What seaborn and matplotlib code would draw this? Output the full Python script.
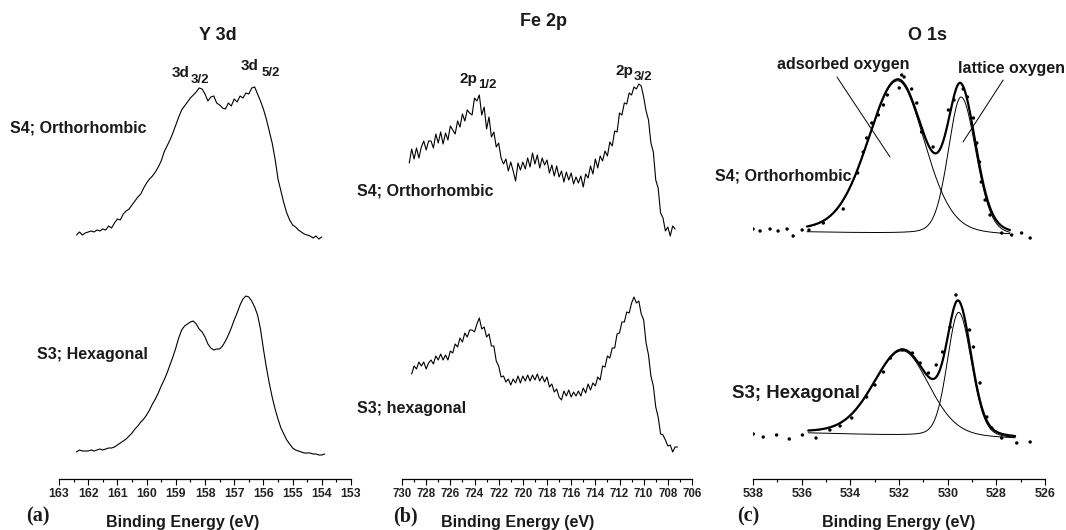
import numpy as np
import pandas as pd
import matplotlib
matplotlib.use("Agg")
import matplotlib.pyplot as plt
import seaborn as sns
from matplotlib.ticker import MultipleLocator, FormatStrFormatter

# ---------------- data ----------------
# Y 3d spectra, 0.1 eV steps starting at 162.4 eV (intensity, a.u.)
y3d_start = 162.4
y3d_step = 0.1
y3d_s4 = [244, 247, 244, 246, 247, 248, 247, 249, 248, 250,
          249, 253, 251, 256, 260, 259, 265, 268, 270, 274,
          278, 282, 285, 291, 296, 300, 303, 307, 312, 318,
          327, 333, 339, 346, 354, 362, 369, 373, 377, 381,
          384, 387, 391, 390, 385, 378, 382, 383, 376, 374,
          371, 370, 376, 373, 380, 377, 383, 381, 386, 385,
          391, 392, 385, 378, 370, 360, 348, 336, 320, 300,
          288, 276, 266, 259, 254, 252, 249, 247, 245, 244,
          243, 241, 243, 240, 242]
y3d_s3 = [27, 29, 28, 28, 28, 29, 28, 29, 30, 29,
          30, 31, 31, 32, 34, 36, 38, 40, 43, 46,
          50, 53, 57, 60, 64, 69, 75, 80, 86, 93,
          99, 106, 114, 122, 131, 141, 149, 153, 155, 157,
          158, 155, 150, 147, 142, 135, 131, 129, 130, 130,
          133, 138, 144, 151, 159, 166, 174, 180, 183, 182,
          178, 172, 164, 150, 130, 112, 96, 82, 70, 60,
          51, 45, 39, 35, 31, 29, 28, 27, 26, 26,
          26, 25, 25, 24, 24, 25]

# Fe 2p spectra, 0.2 eV steps
fe_step = 0.2
fe_s4_start = 729.4
fe_s4 = [316, 330, 320, 331, 321, 332, 338, 329, 338, 338,
         331, 345, 336, 347, 335, 346, 339, 353, 349, 345,
         358, 352, 365, 358, 369, 366, 364, 381, 378, 384,
         364, 372, 350, 362, 342, 347, 332, 336, 321, 315,
         320, 308, 317, 308, 298, 316, 309, 317, 310, 321,
         312, 326, 315, 324, 311, 321, 314, 319, 306, 314,
         303, 313, 302, 308, 297, 307, 299, 306, 295, 302,
         296, 303, 292, 305, 301, 313, 305, 320, 311, 323,
         318, 328, 323, 337, 333, 348, 347, 366, 364, 376,
         375, 386, 384, 392, 390, 395, 393, 382, 368, 359,
         336, 327, 299, 291, 266, 261, 248, 252, 243, 253, 250]
fe_s3_start = 729.2
fe_s3 = [105, 113, 110, 117, 113, 117, 110, 116, 119, 115,
         123, 119, 125, 119, 124, 119, 128, 126, 135, 132,
         141, 137, 146, 142, 149, 149, 147, 155, 161, 150,
         152, 142, 145, 133, 133, 118, 113, 102, 103, 97,
         100, 94, 100, 96, 103, 96, 103, 98, 104, 98,
         104, 99, 105, 98, 103, 97, 102, 92, 95, 87,
         90, 82, 79, 88, 83, 89, 82, 87, 83, 88,
         83, 91, 86, 95, 89, 96, 93, 102, 99, 113,
         112, 123, 121, 131, 131, 145, 146, 157, 157, 167,
         166, 176, 182, 176, 178, 165, 159, 136, 124, 103,
         93, 72, 62, 45, 44, 39, 33, 34, 27, 32, 32]

# O 1s measured points (binding energy, intensity)
o1s_s4_E = [538.00, 537.71, 537.30, 536.97, 536.60, 536.35, 535.98, 535.70,
            535.11, 534.29, 533.70, 533.47, 533.33, 533.12, 532.85, 532.64,
            532.48, 531.99, 531.89, 531.79, 531.48, 531.27, 531.07, 530.60,
            529.97, 529.74, 529.36, 529.19, 528.94, 528.80, 528.69, 528.62,
            528.46, 528.26, 527.78, 527.37, 526.96, 526.61]
o1s_s4_I = [250, 248, 250, 248, 250, 243, 249, 249,
            256, 270, 306, 327, 341, 356, 364, 374,
            384, 391, 404, 402, 390, 376, 347, 332,
            369, 379, 390, 382, 361, 336, 317, 297,
            279, 264, 246, 244, 246, 241]
o1s_s3_E = [537.99, 537.58, 537.03, 536.51, 535.97, 535.41, 534.84, 534.42,
            533.94, 533.33, 532.99, 532.64, 532.35, 531.86, 531.45, 531.13,
            530.79, 530.47, 530.21, 529.90, 529.66, 529.10, 528.94, 528.67,
            528.39, 528.19, 527.78, 527.16, 526.61]
o1s_s3_I = [45, 42, 44, 40, 44, 41, 49, 53,
            61, 82, 94, 107, 121, 129, 126, 116,
            106, 114, 127, 152, 184, 149, 132, 96,
            62, 51, 41, 36, 37]

# O 1s fit: fit window, linear background ends and peak parameters
# peak order: adsorbed oxygen, lattice oxygen
fit_s4_window = (535.78, 527.44)
fit_s4_bg = (247, 243)
fit_s4_center = [532.05, 529.45]
fit_s4_height = [153, 138]
fit_s4_fwhm_hi = [2.9, 1.25]   # high binding-energy side
fit_s4_fwhm_lo = [2.6, 1.45]   # low binding-energy side

fit_s3_window = (535.73, 527.23)
fit_s3_bg = (46, 40)
fit_s3_center = [531.86, 529.55]
fit_s3_height = [85, 125]
fit_s3_fwhm_hi = [2.8, 1.1]
fit_s3_fwhm_lo = [2.6, 1.25]

fit_eta = 0.2  # Lorentzian fraction of the pseudo-Voigt line shape

# ---------------- helpers ----------------
def energy_grid(start, step, n):
    return np.round(start - step * np.arange(n), 2)


def pseudo_voigt(E, c, h, w_hi, w_lo, eta):
    w = np.where(E >= c, w_hi, w_lo)
    s = w / 2.3548
    g = np.exp(-(E - c) ** 2 / (2 * s ** 2))
    lor = 1.0 / (1.0 + ((E - c) / (w / 2)) ** 2)
    return h * ((1 - eta) * g + eta * lor)


def fit_curves(window, bg, centers, heights, w_hi, w_lo):
    E = np.linspace(window[0], window[1], 400)
    base = bg[0] + (bg[1] - bg[0]) * (window[0] - E) / (window[0] - window[1])
    comps = [pseudo_voigt(E, c, h, a, b, fit_eta)
             for c, h, a, b in zip(centers, heights, w_hi, w_lo)]
    return E, base, comps


# ---------------- figure ----------------
sns.set_theme(style="white")
plt.rcParams["font.family"] = ["Liberation Sans", "DejaVu Sans"]
plt.rcParams["font.weight"] = "bold"

W, H = 1066, 530
fig = plt.figure(figsize=(W / 100, H / 100), dpi=100)
AX_Y = 479  # pixel row of the energy axis


def make_axes(x0, x1, xlim, major, minor, tick_fs):
    ax = fig.add_axes([x0 / W, (H - AX_Y) / H, (x1 - x0) / W, AX_Y / H])
    ax.set_xlim(*xlim)
    ax.set_ylim(0, AX_Y)
    ax.set_facecolor("none")
    ax.set_yticks([])
    sns.despine(ax=ax, left=True)
    ax.spines["bottom"].set_color("black")
    ax.spines["bottom"].set_linewidth(0.9)
    ax.xaxis.set_major_locator(MultipleLocator(major))
    ax.xaxis.set_minor_locator(MultipleLocator(minor))
    ax.xaxis.set_major_formatter(FormatStrFormatter("%d"))
    ax.tick_params(axis="x", which="major", direction="out", length=4.5,
                   width=0.8, color="black", labelsize=tick_fs, pad=2.0,
                   labelcolor="#222222", bottom=True)
    ax.tick_params(axis="x", which="minor", direction="out", length=2.5,
                   width=0.8, color="black", bottom=True)
    ax.set_xlabel("")
    ax.set_ylabel("")
    return ax


def ftext(x, y, s, size, ha="left", family=None, weight="bold"):
    kw = dict(fontsize=size, fontweight=weight, ha=ha, va="center",
              color="#1a1a1a")
    if family:
        kw["family"] = family
    fig.text(x / W, 1 - y / H, s, **kw)


line_kw = dict(color="black", linewidth=0.8, sort=False, estimator=None)

# (a) Y 3d
ax_a = make_axes(59, 351, (163, 153), 1, 0.5, 8.8)
sns.lineplot(x=energy_grid(y3d_start, y3d_step, len(y3d_s4)), y=y3d_s4,
             ax=ax_a, **line_kw)
sns.lineplot(x=energy_grid(y3d_start, y3d_step, len(y3d_s3)), y=y3d_s3,
             ax=ax_a, **line_kw)

# (b) Fe 2p
ax_b = make_axes(402, 692, (730, 706), 2, 1, 8.3)
sns.lineplot(x=energy_grid(fe_s4_start, fe_step, len(fe_s4)), y=fe_s4,
             ax=ax_b, **line_kw)
sns.lineplot(x=energy_grid(fe_s3_start, fe_step, len(fe_s3)), y=fe_s3,
             ax=ax_b, **line_kw)

# (c) O 1s
ax_c = make_axes(753, 1045, (538, 526), 2, 1, 9)
for pts_E, pts_I, fit in [
        (o1s_s4_E, o1s_s4_I, (fit_s4_window, fit_s4_bg, fit_s4_center,
                              fit_s4_height, fit_s4_fwhm_hi, fit_s4_fwhm_lo)),
        (o1s_s3_E, o1s_s3_I, (fit_s3_window, fit_s3_bg, fit_s3_center,
                              fit_s3_height, fit_s3_fwhm_hi, fit_s3_fwhm_lo))]:
    E, base, comps = fit_curves(*fit)
    for comp in comps:
        sns.lineplot(x=E, y=base + comp, ax=ax_c, color="black",
                     linewidth=0.7, sort=False, estimator=None)
    sns.lineplot(x=E, y=base + sum(comps), ax=ax_c, color="black",
                 linewidth=1.6, sort=False, estimator=None)
    sns.scatterplot(x=pts_E, y=pts_I, ax=ax_c, color="black", s=6,
                    edgecolor="none", zorder=5)

# leader lines for the peak names
ax_c.plot([534.55, 532.37], [402, 322], color="black", lw=0.7)
ax_c.plot([527.72, 529.37], [399, 337], color="black", lw=0.7)

# ---------------- text ----------------
ftext(218, 36, "Y 3d", 13, ha="center")
ftext(544, 22, "Fe 2p", 13, ha="center")
ftext(928, 35, "O 1s", 13, ha="center")

ftext(172, 73, "3d", 11)
ftext(191, 80, "3/2", 9.5)
ftext(241, 66, "3d", 11)
ftext(262, 73, "5/2", 9.5)
ftext(460, 79, "2p", 11)
ftext(478, 85, "1/2", 9.5)
ftext(616, 71, "2p", 11)
ftext(634, 77, "3/2", 9.5)
ftext(777, 65, "adsorbed oxygen", 11.5)
ftext(958, 69, "lattice oxygen", 11.5)

ftext(10, 128, "S4; Orthorhombic", 11.5)
ftext(37, 355, "S3; Hexagonal", 11.5)
ftext(357, 191, "S4; Orthorhombic", 11.5)
ftext(357, 409, "S3; hexagonal", 11.5)
ftext(715, 176, "S4; Orthorhombic", 11.5)
ftext(732, 393, "S3; Hexagonal", 13.4)

for x_lab, x_tag, tag in [(183, 26, "(a)"), (518, 393, "(b)"), (899, 737, "(c)")]:
    ftext(x_lab, 522, "Binding Energy (eV)", 11.5, ha="center")
    ftext(x_tag, 516, tag, 14.5, family=["Liberation Serif", "DejaVu Serif"])

fig.savefig("out.png", dpi=100)
